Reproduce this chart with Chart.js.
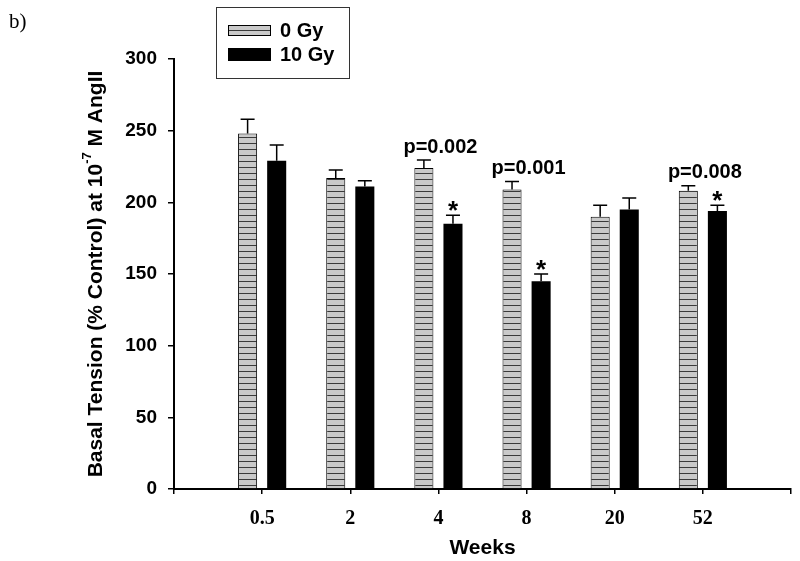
<!DOCTYPE html>
<html lang="en">
<head>
  <meta charset="UTF-8">
  <title>Basal Tension</title>
  <script src="https://cdn.jsdelivr.net/npm/chart.js"></script>
  <style>
    body { margin: 0; padding: 0; background: #fff; }
    #chart { display: block; }
  </style>
</head>
<body>
  <canvas id="chart" width="800" height="561"></canvas>

  <script>
    // blank slots at both ends so the axis runs past the first and last group
    const weeks = ['', '0.5', '2', '4', '8', '20', '52', ''];
    const control = [null, 248, 217, 224, 209, 190, 208, null];
    const controlErr = [null, 10, 5.5, 5.5, 5.5, 8, 3.5, null];
    const irradiated = [null, 229, 211, 185, 145, 195, 194, null];
    const irradiatedErr = [null, 11, 4, 6, 5, 8, 4, null];
    const pLabels = [null, null, null, 'p=0.002', 'p=0.001', null, 'p=0.008', null];
    const stars = [null, null, null, '*', '*', null, '*', null];

    const SANS = "'Liberation Sans', Arial, sans-serif";
    const SERIF = "'Liberation Serif', 'Times New Roman', serif";

    // grey fill with thin horizontal stripes
    function stripePattern() {
      const c = document.createElement('canvas');
      c.width = 8;
      c.height = 6;
      const g = c.getContext('2d');
      g.fillStyle = '#c9c9c9';
      g.fillRect(0, 0, 8, 6);
      g.fillStyle = '#3a3a3a';
      g.fillRect(0, 5, 8, 1);
      return g.createPattern(c, 'repeat');
    }

    const ctx = document.getElementById('chart').getContext('2d');
    const stripes = stripePattern();

    const errorBars = {
      id: 'errorBars',
      afterDatasetsDraw(chart) {
        const c = chart.ctx;
        const y = chart.scales.y;
        const errs = [controlErr, irradiatedErr];
        c.save();
        c.strokeStyle = '#000';
        c.lineWidth = 1.5;
        chart.data.datasets.forEach((ds, i) => {
          const meta = chart.getDatasetMeta(i);
          meta.data.forEach((bar, j) => {
            if (ds.data[j] == null) return;
            const top = y.getPixelForValue(ds.data[j] + errs[i][j]);
            c.beginPath();
            c.moveTo(bar.x, bar.y);
            c.lineTo(bar.x, top);
            c.moveTo(bar.x - 7, top);
            c.lineTo(bar.x + 7, top);
            c.stroke();
          });
        });

        // significance notes
        c.fillStyle = '#000';
        c.textAlign = 'center';
        const xs = chart.scales.x;
        weeks.forEach((w, j) => {
          if (pLabels[j]) {
            const top = y.getPixelForValue(Math.max(control[j] + controlErr[j], irradiated[j] + irradiatedErr[j]));
            c.font = 'bold 20px ' + SANS;
            c.textBaseline = 'bottom';
            c.fillText(pLabels[j], xs.getPixelForValue(j) + 2, top - 3);
          }
          if (stars[j]) {
            const bar = chart.getDatasetMeta(1).data[j];
            const top = y.getPixelForValue(irradiated[j] + irradiatedErr[j]);
            c.font = 'bold 26px ' + SANS;
            c.textBaseline = 'alphabetic';
            c.fillText(stars[j], bar.x, top + 4);
          }
        });
        c.restore();
      }
    };

    const extras = {
      id: 'extras',
      afterDraw(chart) {
        const c = chart.ctx;
        c.save();
        c.fillStyle = '#000';

        // panel letter
        c.font = '21px ' + SERIF;
        c.textAlign = 'left';
        c.textBaseline = 'alphabetic';
        c.fillText('b)', 9, 28);

        // legend
        c.strokeStyle = '#333';
        c.lineWidth = 1;
        c.strokeRect(216.5, 7.5, 133, 71);
        c.fillStyle = '#c9c9c9';
        c.fillRect(228, 25, 43, 11);
        c.fillStyle = '#3a3a3a';
        c.fillRect(228, 30, 43, 1);
        c.strokeStyle = '#000';
        c.strokeRect(228.5, 25.5, 42, 10);
        c.fillStyle = '#000';
        c.fillRect(228, 48, 43, 13);
        c.font = 'bold 20px ' + SANS;
        c.textBaseline = 'middle';
        c.fillText(chart.data.datasets[0].label, 280, 31);
        c.fillText(chart.data.datasets[1].label, 280, 55);

        // y title with superscript exponent
        const parts = [
          ['Basal Tension (% Control) at 10', 'bold 21px ' + SANS, 0],
          ['-7', 'bold 13px ' + SANS, -9],
          [' M AngII', 'bold 21px ' + SANS, 0]
        ];
        let total = 0;
        parts.forEach(p => { c.font = p[1]; total += c.measureText(p[0]).width; });
        c.translate(96, 274);
        c.rotate(-Math.PI / 2);
        let x = -total / 2;
        parts.forEach(p => {
          c.font = p[1];
          c.fillText(p[0], x, p[2]);
          x += c.measureText(p[0]).width;
        });
        c.restore();
      }
    };

    new Chart(ctx, {
      type: 'bar',
      data: {
        labels: weeks,
        datasets: [
          {
            label: '0 Gy',
            data: control,
            backgroundColor: stripes,
            borderColor: '#000',
            borderWidth: 1
          },
          {
            label: '10 Gy',
            data: irradiated,
            backgroundColor: '#000',
            borderColor: '#000',
            borderWidth: 0
          }
        ]
      },
      options: {
        responsive: false,
        animation: false,
        devicePixelRatio: 1,
        categoryPercentage: 0.66,
        barPercentage: 0.655,
        layout: { padding: { top: 59, right: 9, left: 0, bottom: 0 } },
        plugins: {
          legend: { display: false },
          tooltip: { enabled: false }
        },
        scales: {
          x: {
            offset: false,
            grid: { offset: false, drawOnChartArea: false, color: '#000', tickLength: 5, lineWidth: 1.5 },
            border: { color: '#000', width: 2 },
            ticks: {
              color: '#000',
              autoSkip: false,
              maxRotation: 0,
              padding: 13,
              font: { family: SERIF, weight: 'bold', size: 20 }
            },
            title: {
              display: true,
              text: 'Weeks',
              color: '#000',
              padding: { top: 0, bottom: 0 },
              font: { family: SANS, weight: 'bold', size: 21 }
            },
            afterFit(scale) {
              scale.height = 72;
              scale.paddingLeft = 0;
              scale.paddingRight = 0;
            }
          },
          y: {
            min: 0,
            max: 300,
            grid: { drawOnChartArea: false, color: '#000', tickLength: 6, lineWidth: 1.5 },
            border: { color: '#000', width: 2 },
            ticks: {
              stepSize: 50,
              color: '#000',
              padding: 11,
              font: { family: SANS, weight: 'bold', size: 19 }
            },
            afterFit(scale) { scale.width = 174; }
          }
        }
      },
      plugins: [errorBars, extras]
    });
  </script>
</body>
</html>
